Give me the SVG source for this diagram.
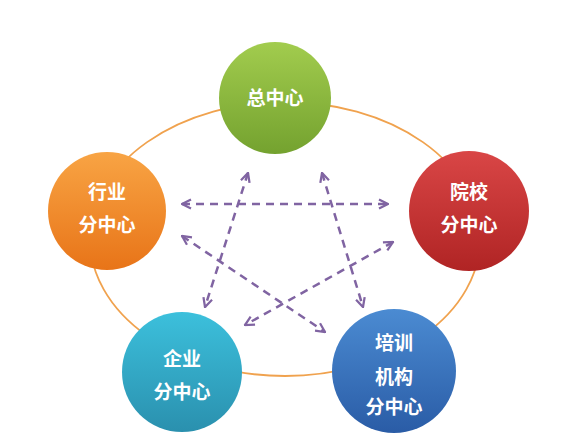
<svg xmlns="http://www.w3.org/2000/svg" width="583" height="448" viewBox="0 0 583 448">
<style>
.lbl{font-family:"Noto Sans CJK SC","Noto Sans",sans-serif;font-weight:bold;font-size:19px;fill:#fff;text-anchor:middle}
.arr{stroke:#8064a2;stroke-width:2.5;stroke-dasharray:8 6;fill:none;marker-start:url(#ah);marker-end:url(#ah)}
</style>
<defs>
<marker id="ah" viewBox="0 0 10 10" refX="9" refY="5" markerWidth="4.5" markerHeight="4.5" orient="auto-start-reverse" markerUnits="strokeWidth">
<path d="M1,1 L9,5 L1,9" fill="none" stroke="#8064a2" stroke-width="2"/>
</marker>
<linearGradient id="gG" x1="0" y1="0" x2="0" y2="1"><stop offset="0" stop-color="#a2cc4e"/><stop offset="1" stop-color="#74a22f"/></linearGradient>
<linearGradient id="gO" x1="0" y1="0" x2="0" y2="1"><stop offset="0" stop-color="#f8a444"/><stop offset="1" stop-color="#e87418"/></linearGradient>
<linearGradient id="gR" x1="0" y1="0" x2="0" y2="1"><stop offset="0" stop-color="#d94646"/><stop offset="1" stop-color="#b02424"/></linearGradient>
<linearGradient id="gT" x1="0" y1="0" x2="0" y2="1"><stop offset="0" stop-color="#3cc0dc"/><stop offset="1" stop-color="#2a90ae"/></linearGradient>
<linearGradient id="gB" x1="0" y1="0" x2="0" y2="1"><stop offset="0" stop-color="#4b8bd2"/><stop offset="1" stop-color="#2a5ca6"/></linearGradient>
</defs>
<rect width="583" height="448" fill="#fff"/>
<ellipse cx="285" cy="239" rx="195" ry="137" fill="none" stroke="#f0a24e" stroke-width="1.8"/>
<g id="connectors">
<line class="arr" x1="182" y1="204" x2="388" y2="204"/>
<line class="arr" x1="248" y1="173" x2="205" y2="307"/>
<line class="arr" x1="322" y1="173" x2="363" y2="307"/>
<line class="arr" x1="182" y1="236" x2="325" y2="332"/>
<line class="arr" x1="393" y1="242" x2="245" y2="325"/>
</g>
<g id="zong">
<circle cx="275" cy="98" r="56" fill="url(#gG)"/>
<text class="lbl" x="275" y="105">总中心</text>
</g>
<g id="hangye">
<circle cx="107" cy="211" r="59" fill="url(#gO)"/>
<text class="lbl" x="107" y="199">行业</text>
<text class="lbl" x="107" y="232">分中心</text>
</g>
<g id="yuanxiao">
<circle cx="469" cy="211" r="60" fill="url(#gR)"/>
<text class="lbl" x="469" y="199">院校</text>
<text class="lbl" x="469" y="232">分中心</text>
</g>
<g id="qiye">
<circle cx="182" cy="372" r="60" fill="url(#gT)"/>
<text class="lbl" x="182" y="366">企业</text>
<text class="lbl" x="182" y="399">分中心</text>
</g>
<g id="peixun">
<circle cx="394" cy="371" r="62" fill="url(#gB)"/>
<text class="lbl" x="394" y="350">培训</text>
<text class="lbl" x="394" y="384">机构</text>
<text class="lbl" x="394" y="414">分中心</text>
</g>
</svg>
